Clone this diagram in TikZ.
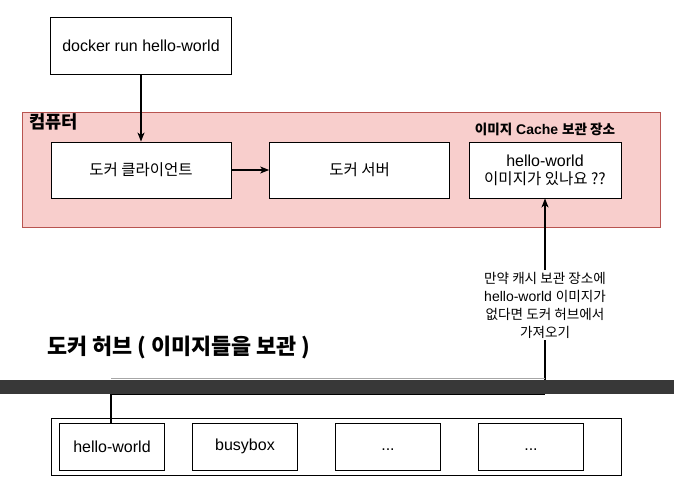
\documentclass[tikz,border=0pt]{standalone}
\usepackage{fontspec}
\setmainfont{Liberation Sans}
\newfontfamily\kr[Scale=0.97]{Noto Sans CJK KR}
\usetikzlibrary{arrows.meta}
\definecolor{pinkfill}{HTML}{F8CECC}
\definecolor{pinkline}{HTML}{B85450}
\definecolor{barcol}{HTML}{383838}
\tikzset{
  box/.style={draw=black,fill=white,line width=0.9pt,inner sep=0pt,align=center,
    font=\fontsize{16}{19}\selectfont},
  conn/.style={draw=black,line width=1.1pt,-{Stealth[length=9pt,width=7pt,inset=2.5pt]}},
}
\begin{document}
\begin{tikzpicture}[x=1pt,y=-1pt]
\useasboundingbox (0,0) rectangle (674,500);

% docker run
\node[box,minimum width=181pt,minimum height=57pt] (run) at (141,45.5) {docker run hello-world};

% computer container
\node[draw=pinkline,fill=pinkfill,line width=0.9pt,minimum width=638pt,minimum height=115pt,inner sep=0pt] (computer) at (341,169.5) {};
\node[anchor=west,inner sep=0pt,font=\fontsize{18.2}{21}\selectfont\kr\bfseries] (comptitle) at (29,122) {컴퓨터};
\node[inner sep=0pt,font=\fontsize{14}{16}\selectfont\bfseries] (cachetitle) at (545,129) {{\kr 이미지} Cache {\kr 보관 장소}};

\node[box,minimum width=180pt,minimum height=56pt] (client) at (141,170) {\kr 도커 클라이언트};
\node[box,minimum width=180pt,minimum height=56pt] (server) at (359.6,170) {\kr 도커 서버};
\node[box,minimum width=152pt,minimum height=56pt] (cache) at (545,170) {hello-world\\[-1pt]{\kr 이미지가 있나요 ??}};

\draw[conn] (run.south) -- (client.north);
\draw[conn] (client.east) -- (server.west);

% hub title
\node[anchor=west,inner sep=0pt,font=\fontsize{22.5}{26}\selectfont\kr\bfseries] (hubtitle) at (47,348) {도커 허브 ( 이미지들을 보관 )};

% bottom container
\node[draw=black,fill=white,line width=0.9pt,minimum width=570pt,minimum height=57pt,inner sep=0pt] (hub) at (336,446.5) {};
\node[box,minimum width=105pt,minimum height=47pt] (hw) at (112,446.5) {hello-world};
\node[box,minimum width=105pt,minimum height=47pt] (bb) at (245,446.5) {busybox};
\node[box,minimum width=105pt,minimum height=47pt] (d1) at (388,446.5) {\strut...};
\node[box,minimum width=105pt,minimum height=47pt] (d2) at (531,446.5) {\strut...};

% connector from hub to cache
\coordinate (c1) at (111,386);
\coordinate (c2) at (545,386);
\draw[conn] (hw.north -| c1) -- (c1) -- (c2) -- (cache.south);

% bar over connector
\fill[barcol] (0,380) rectangle (674,394);
\draw[gray!70,line width=1pt] (111,378) -- (545,378);
\draw[black,line width=1pt] (111,394) -- (545,394);

% label
\node[fill=white,inner sep=2pt,align=center,font=\fontsize{14}{18}\selectfont] (lbl) at (545,305)
  {{\kr 만약 캐시 보관 장소에}\\hello-world {\kr 이미지가}\\{\kr 없다면 도커 허브에서}\\{\kr 가져오기}};
\end{tikzpicture}
\end{document}
